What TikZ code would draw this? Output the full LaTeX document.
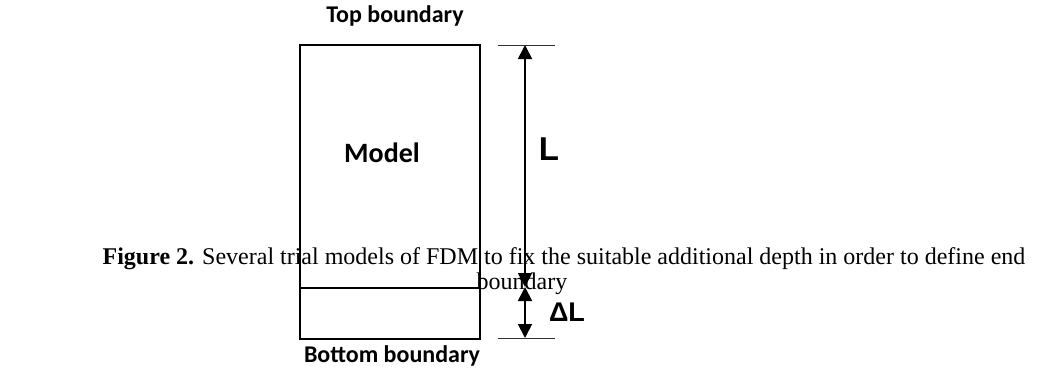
\documentclass[tikz,border=0pt]{standalone}
\usepackage{fontspec}
\setmainfont{Liberation Serif}
\setsansfont{Liberation Sans}
\newfontfamily\labelfont{Carlito}
\usetikzlibrary{arrows.meta}
\begin{document}
\begin{tikzpicture}[x=1pt, y=-1pt, >={Triangle[length=14pt,width=14pt]},
    lbl/.style={font=\labelfont\bfseries\fontsize{24}{28}\selectfont},
    dimlbl/.style={font=\sffamily\bfseries\fontsize{33}{38}\selectfont},
    dim/.style={<->, line width=1.8pt},
    tick/.style={line width=0.8pt, draw=black!80}]
    % Bounding box (same size as the reference)
    \useasboundingbox (0,0) rectangle (1043,370);

    % 1. Model box with the extra layer below
    \draw[line width=2.8pt] (300,45) rectangle (480,339);
    \draw[line width=2.8pt] (300,288) -- (480,288);
    \node[lbl] (top) at (395,16) {Top boundary};
    \node[lbl] (bottom) at (392,356) {Bottom boundary};
    \node[lbl, font=\labelfont\bfseries\fontsize{28}{32}\selectfont] (model) at (382,153) {Model};

    % 2. Dimension lines L and Delta L
    \coordinate (t1) at (498,45);
    \coordinate (t2) at (555,45);
    \coordinate (b1) at (498,338);
    \coordinate (b2) at (555,338);
    \coordinate (la) at (525,45);
    \coordinate (lb) at (525,287);
    \coordinate (lc) at (525,338);
    \draw[tick] (t1) -- (t2);
    \draw[tick] (b1) -- (b2);
    \draw[dim] (lb) -- (la);
    \draw[dim] (lb) -- (lc);
    \node[dimlbl] (L) at (549,149) {L};
    \node[dimlbl, font=\sffamily\bfseries\fontsize{27}{30}\selectfont] (dL) at (567,312) {ΔL};

    % 3. Caption printed over the figure
    \node[font=\fontsize{24}{28}\selectfont] (cap) at (564,259)
        {\textbf{Figure 2.} Several trial models of FDM to fix the suitable additional depth in order to define end};
    \node[font=\fontsize{24}{28}\selectfont] (cap2) at (522,284) {boundary};
\end{tikzpicture}
\end{document}
